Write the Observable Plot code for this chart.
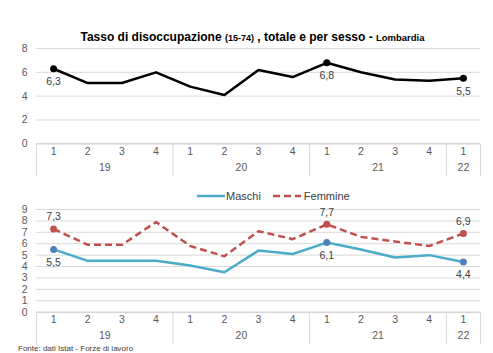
<!DOCTYPE html>
<html><head><meta charset="utf-8">
<script src="https://cdn.jsdelivr.net/npm/d3@7"></script>
<script src="https://cdn.jsdelivr.net/npm/@observablehq/plot@0.6"></script>
<style>
body{margin:0;background:#fff;font-family:"Liberation Sans",Arial,sans-serif;}
#wrap{position:relative;width:493px;height:353px;overflow:hidden;background:#fff;}
#title{position:absolute;left:0;width:505px;top:30px;text-align:center;font-weight:bold;font-size:12px;line-height:15px;color:#000;white-space:nowrap;}
#title .s{font-size:9px;}
#title .s2{font-size:9.5px;}
#top{position:absolute;left:0;top:44px;}
#bottom{position:absolute;left:0;top:205px;}
#legend{position:absolute;top:189px;left:197px;font-size:11px;color:#404040;display:flex;align-items:center;white-space:nowrap;line-height:14px;}
#legend svg{display:block}
#foot{position:absolute;left:18px;top:344px;font-size:8px;line-height:9px;color:#404040;white-space:nowrap;}
</style></head><body>
<div id="wrap">
<div id="title">Tasso di disoccupazione <span class="s">(15-74)</span> , totale e per sesso - <span class="s2">Lombardia</span></div>
<div id="top"></div>
<div id="legend"></div>
<div id="bottom"></div>
<div id="foot">Fonte: dati Istat - Forze di lavoro</div>
</div>
<script>
const quarters = ["1","2","3","4","1","2","3","4","1","2","3","4","1"];
const years    = ["19","19","19","19","20","20","20","20","21","21","21","21","22"];
const totale   = [6.3, 5.1, 5.1, 6.0, 4.8, 4.1, 6.2, 5.6, 6.8, 6.0, 5.4, 5.3, 5.5];
const maschi   = [5.5, 4.5, 4.5, 4.5, 4.1, 3.5, 5.4, 5.1, 6.1, 5.5, 4.8, 5.0, 4.4];
const femmine  = [7.3, 5.9, 5.9, 7.9, 5.8, 4.9, 7.1, 6.4, 7.7, 6.6, 6.2, 5.8, 6.9];
const labelled = [0, 8, 12];
const seriesNames = ["Maschi", "Femmine"];
const topTicks = [0, 2, 4, 6, 8];
const bottomTicks = [0, 1, 2, 3, 4, 5, 6, 7, 8, 9];

const colors = {Totale: "#000000", Maschi: "#4bacc6", Femmine: "#c0504d"};
const markerColors = {Totale: "#000000", Maschi: "#4f81bd", Femmine: "#c0504d"};
const dashes = {Totale: null, Maschi: null, Femmine: "7,4"};

const n = quarters.length;
const rows = quarters.map((q, i) => ({pos: i + 0.5, q, year: years[i]}));
// year groups
const groups = [];
years.forEach((y, i) => {
  let g = groups.find(g => g.year === y);
  if (!g) { g = {year: y, start: i, end: i + 1}; groups.push(g); }
  g.end = i + 1;
});
groups.forEach(g => g.pos = (g.start + g.end) / 2);
const separators = [0, ...groups.map(g => g.end)];
const fmt = v => String(v.toFixed(1)).replace(".", ",");

function makeSeries(name, vals) {
  return vals.map((v, i) => ({series: name, pos: i + 0.5, v}));
}

function chart(yDomain, yTicks, seriesList, labelDy, frameH) {
  const marginTop = 4, marginBottom = 35;
  const marks = [
    Plot.ruleY(yTicks, {y: d => d, stroke: "#d9d9d9", strokeWidth: 1}),
    Plot.ruleY([0], {y: d => d, stroke: "#cfcfcf", strokeWidth: 1}),
    Plot.ruleX(separators, {x: d => d, y1: 0, y2: 0, insetBottom: -33, stroke: "#d9d9d9", strokeWidth: 1}),
    Plot.text(rows, {x: "pos", text: "q", frameAnchor: "bottom", dy: 11, fill: "#595959", fontSize: 10.5}),
    Plot.text(groups, {x: "pos", text: "year", frameAnchor: "bottom", dy: 27, fill: "#595959", fontSize: 10.5})
  ];
  for (const s of seriesList) {
    const data = makeSeries(s.name, s.vals);
    const lab = data.filter((d, i) => labelled.includes(i));
    marks.push(Plot.line(data, {x: "pos", y: "v", stroke: colors[s.name], strokeWidth: 2.5,
      strokeDasharray: dashes[s.name], strokeLinejoin: "round", strokeLinecap: "butt"}));
    marks.push(Plot.dot(lab, {x: "pos", y: "v", r: 3.5, fill: markerColors[s.name], stroke: "none"}));
    marks.push(Plot.text(lab, {x: "pos", y: "v", text: d => fmt(d.v), dy: labelDy[s.name], fill: "#404040", fontSize: 10.5}));
  }
  return Plot.plot({
    width: 493,
    height: marginTop + frameH + marginBottom,
    marginLeft: 36, marginRight: 13, marginTop, marginBottom,
    x: {domain: [0, n], axis: null},
    y: {domain: yDomain, ticks: yTicks, tickSize: 0, tickPadding: 9, label: null, tickFormat: d => String(d)},
    style: {fontFamily: '"Liberation Sans", Arial, sans-serif', fontSize: "10.5px", color: "#595959", background: "transparent", overflow: "visible"},
    marks
  });
}

document.getElementById("top").appendChild(
  chart([0, 8], topTicks, [{name: "Totale", vals: totale}], {Totale: 13}, 95.3)
);
document.getElementById("bottom").appendChild(
  chart([0, 9], bottomTicks, [{name: "Maschi", vals: maschi}, {name: "Femmine", vals: femmine}], {Maschi: 13, Femmine: -12}, 102.7)
);

// legend
const leg = document.getElementById("legend");
seriesNames.forEach((name, k) => {
  const sw = d3.create("svg").attr("width", 28).attr("height", 10);
  sw.append("line").attr("x1", 0).attr("x2", 28).attr("y1", 5).attr("y2", 5)
    .attr("stroke", colors[name]).attr("stroke-width", 2.5)
    .attr("stroke-dasharray", dashes[name]);
  const item = document.createElement("div");
  item.style.display = "flex"; item.style.alignItems = "center";
  item.style.marginRight = k === 0 ? "12px" : "0";
  item.appendChild(sw.node());
  const t = document.createElement("span");
  t.textContent = name; t.style.marginLeft = k === 0 ? "1px" : "3px";
  item.appendChild(t);
  leg.appendChild(item);
});
</script>
</body></html>
